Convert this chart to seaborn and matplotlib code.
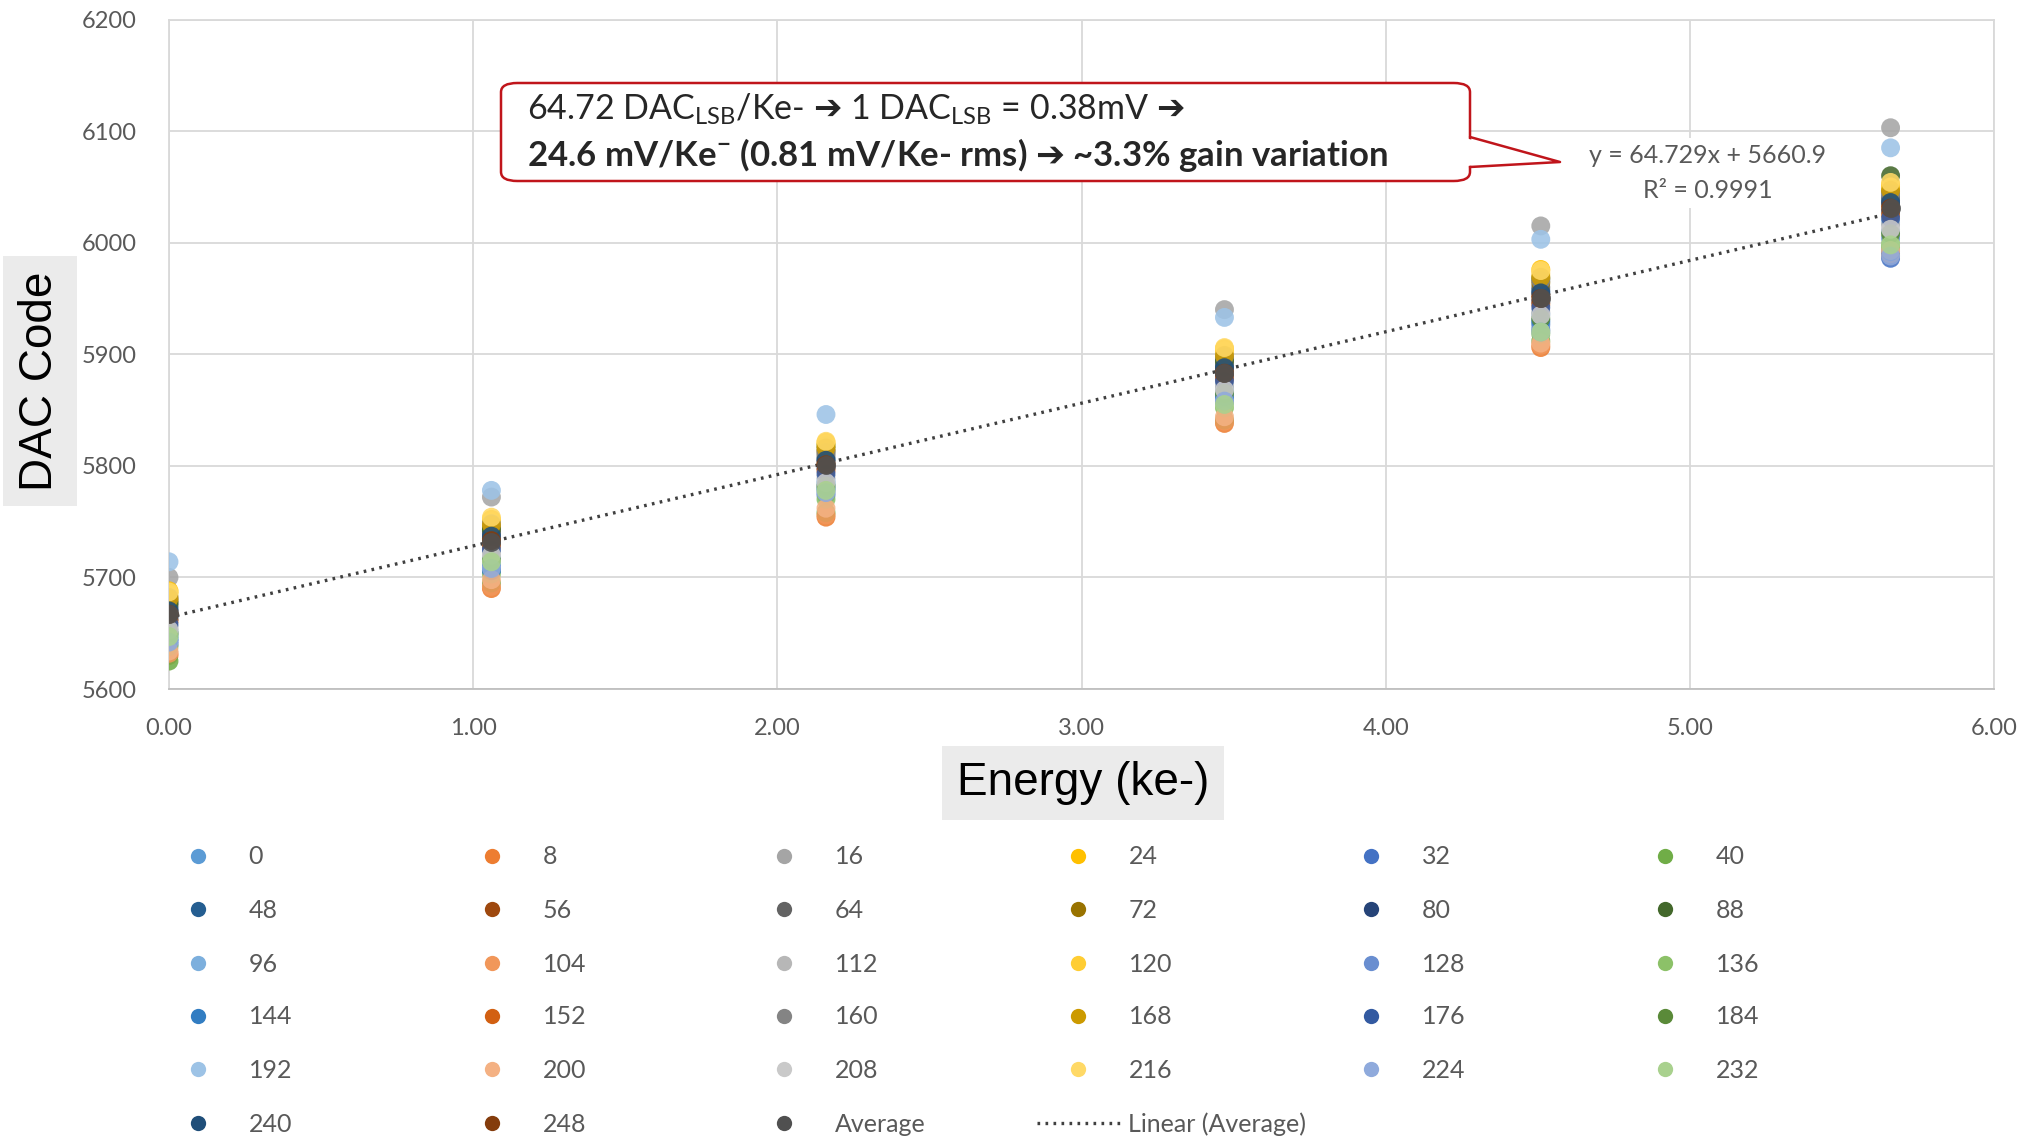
import numpy as np
import pandas as pd
import matplotlib
matplotlib.use("Agg")
import matplotlib.pyplot as plt
from matplotlib.lines import Line2D
from matplotlib.patches import FancyBboxPatch, Polygon
import seaborn as sns

# ---------------- data ----------------
energy = [0.00, 1.06, 2.16, 3.47, 4.51, 5.66]

s0 = [5648, 5712, 5784, 5866, 5928, 6010]
s8 = [5630, 5690, 5754, 5838, 5906, 5988]
s16 = [5700, 5772, 5815, 5940, 6015, 6103]
s24 = [5688, 5752, 5821, 5905, 5976, 6052]
s32 = [5640, 5706, 5774, 5857, 5922, 5986]
s40 = [5625, 5695, 5758, 5841, 5912, 5996]
s48 = [5672, 5739, 5806, 5889, 5957, 6038]
s56 = [5669, 5735, 5803, 5886, 5953, 6034]
s64 = [5675, 5741, 5809, 5892, 5960, 6041]
s72 = [5679, 5745, 5813, 5896, 5964, 6046]
s80 = [5663, 5730, 5798, 5880, 5947, 6028]
s88 = [5677, 5743, 5818, 5894, 5968, 6060]
s96 = [5652, 5718, 5787, 5870, 5936, 6018]
s104 = [5632, 5692, 5756, 5840, 5908, 5990]
s112 = [5655, 5722, 5790, 5872, 5938, 6016]
s120 = [5685, 5750, 5819, 5903, 5972, 6050]
s128 = [5643, 5709, 5778, 5860, 5926, 6004]
s136 = [5638, 5703, 5770, 5852, 5918, 5999]
s144 = [5645, 5706, 5780, 5862, 5930, 5992]
s152 = [5661, 5728, 5796, 5878, 5945, 6025]
s160 = [5682, 5748, 5812, 5898, 5966, 6044]
s168 = [5681, 5747, 5816, 5899, 5969, 6047]
s176 = [5658, 5725, 5793, 5876, 5942, 6022]
s184 = [5650, 5716, 5782, 5865, 5932, 6008]
s192 = [5714, 5778, 5846, 5933, 6003, 6085]
s200 = [5634, 5698, 5762, 5844, 5910, 5993]
s208 = [5653, 5720, 5785, 5868, 5935, 6012]
s216 = [5687, 5754, 5822, 5906, 5975, 6054]
s224 = [5642, 5708, 5776, 5858, 5920, 5988]
s232 = [5647, 5714, 5778, 5855, 5920, 5998]
s240 = [5670, 5737, 5805, 5888, 5955, 6036]
s248 = [5667, 5733, 5801, 5883, 5950, 6031]
average = [5667, 5732, 5801, 5883, 5950, 6031]

series_labels = ["0", "8", "16", "24", "32", "40", "48", "56", "64", "72",
                 "80", "88", "96", "104", "112", "120", "128", "136", "144",
                 "152", "160", "168", "176", "184", "192", "200", "208",
                 "216", "224", "232", "240", "248"]
series_values = [s0, s8, s16, s24, s32, s40, s48, s56, s64, s72, s80, s88,
                 s96, s104, s112, s120, s128, s136, s144, s152, s160, s168,
                 s176, s184, s192, s200, s208, s216, s224, s232, s240, s248]
series_colors = ["#5B9BD5", "#ED7D31", "#A5A5A5", "#FFC000", "#4472C4", "#70AD47",
                 "#255E91", "#9E480E", "#636363", "#997300", "#264478", "#43682B",
                 "#7CAFDD", "#F1975A", "#B7B7B7", "#FFCD33", "#698ED0", "#8CC168",
                 "#327DC2", "#D26012", "#848484", "#CC9A00", "#335AA1", "#5A8A39",
                 "#9DC3E6", "#F4B183", "#C9C9C9", "#FFD966", "#8FAADC", "#A9D18E",
                 "#1F4E79", "#843C0C"]
avg_color = "#505050"

y_ticks = [5600, 5700, 5800, 5900, 6000, 6100, 6200]
x_ticks = [0, 1, 2, 3, 4, 5, 6]
x_tick_labels = ["0.00", "1.00", "2.00", "3.00", "4.00", "5.00", "6.00"]

# ---------------- style ----------------
sns.set_theme(style="white")
plt.rcParams['font.family'] = ['Lato', 'DejaVu Sans']
plt.rcParams['mathtext.fontset'] = 'custom'
plt.rcParams['mathtext.rm'] = 'Lato'
plt.rcParams['mathtext.bf'] = 'Lato:bold'
plt.rcParams['mathtext.sf'] = 'DejaVu Sans'

W, H = 2039, 1138
fig = plt.figure(figsize=(W / 100, H / 100), dpi=100)
fig.patch.set_facecolor("white")


def fx(px):
    return px / W


def fy(py):
    return 1 - py / H


ax = fig.add_axes([fx(169), fy(689), (1994 - 169) / W, (689 - 19.5) / H])

rows = []
for lab, vals in zip(series_labels, series_values):
    for e, v in zip(energy, vals):
        rows.append((lab, e, v))
df = pd.DataFrame(rows, columns=["series", "energy", "dac"])
palette = dict(zip(series_labels, series_colors))

sns.regplot(x=energy, y=average, scatter=False, ci=None, truncate=True, ax=ax,
            line_kws=dict(color="#404040", lw=2.4, ls=(0, (0.8, 1.6)), zorder=2))
sns.scatterplot(data=df, x="energy", y="dac", hue="series", palette=palette,
                hue_order=series_labels, s=185, linewidth=0, alpha=0.88,
                legend=False, ax=ax, zorder=3)
sns.scatterplot(x=energy, y=average, color=avg_color, s=185, linewidth=0,
                alpha=0.9, ax=ax, zorder=4)

ax.set_xlim(0, 6)
ax.set_ylim(5600, 6200)
ax.set_xticks(x_ticks)
ax.set_xticklabels(x_tick_labels)
ax.set_yticks(y_ticks)
ax.set_xlabel("")
ax.set_ylabel("")
ax.grid(True, color="#D9D9D9", lw=1.3)
ax.set_axisbelow(True)
for sp in ax.spines.values():
    sp.set_color("#D9D9D9")
    sp.set_linewidth(1.3)
ax.spines["bottom"].set_color("#BFBFBF")
ax.tick_params(axis="both", length=0, labelsize=17, labelcolor="#595959")
ax.tick_params(axis="y", pad=23)
ax.tick_params(axis="x", pad=21)

# axis titles in grey boxes
fig.text(fx(1083), fy(783), "Energy (ke-)", family="Liberation Sans", fontsize=33,
         color="black", ha="center", va="center",
         bbox=dict(boxstyle="square,pad=0.33", fc="#EBEBEB", ec="none"))
fig.text(fx(40), fy(381), "DAC Code", family="Liberation Sans", fontsize=33,
         color="black", ha="center", va="center", rotation=90,
         bbox=dict(boxstyle="square,pad=0.33", fc="#EBEBEB", ec="none"))

# trendline equation
fig.text(fx(1708), fy(173), "y = 64.729x + 5660.9\nR² = 0.9991", fontsize=18,
         color="#595959", ha="center", va="center", linespacing=1.6,
         bbox=dict(boxstyle="square,pad=0.25", fc="white", ec="none"))

# callout
red = "#C0151B"
box = FancyBboxPatch((fx(501), fy(181)), (1470 - 501) / W, (181 - 83) / H,
                     boxstyle="round,pad=0,rounding_size=0.008",
                     transform=fig.transFigure, fc="white", ec=red, lw=1.8,
                     zorder=5)
fig.add_artist(box)
tail_fill = Polygon([(fx(1465), fy(138)), (fx(1560), fy(162)), (fx(1465), fy(166))],
                    closed=True, transform=fig.transFigure, fc="white", ec="none",
                    zorder=6)
fig.add_artist(tail_fill)
fig.add_artist(Line2D([fx(1470), fx(1560), fx(1470)], [fy(137), fy(162), fy(167)],
                      transform=fig.transFigure, color=red, lw=1.8, zorder=7))

fig.text(fx(527), fy(109),
         r"64.72 DAC$_{\mathrm{LSB}}$/Ke- $\mathsf{➔}$ 1 DAC$_{\mathrm{LSB}}$ = 0.38mV $\mathsf{➔}$",
         fontsize=24.5, color="#262626", ha="left", va="center", zorder=8)
fig.text(fx(527), fy(155),
         r"24.6 mV/Ke$^{\mathbf{-}}$ (0.81 mV/Ke- rms) $\mathsf{➔}$ ~3.3% gain variation",
         fontsize=25, fontweight="bold", color="#262626", ha="left", va="center",
         zorder=8)

# legend, laid out row-wise in a 6-column grid
col_x = [198, 492, 784, 1078, 1371, 1665]
row_y = [857, 910, 964, 1017, 1070, 1124]
entries = [(lab, Line2D([], [], ls="none", marker="o", ms=11, mfc=c, mec="none"))
           for lab, c in zip(series_labels, series_colors)]
entries.append(("Average", Line2D([], [], ls="none", marker="o", ms=11,
                                  mfc=avg_color, mec="none")))
entries.append(("Linear (Average)", Line2D([], [], color="#404040", lw=2.4,
                                           ls=(0, (0.8, 1.6)))))
for i, (lab, h) in enumerate(entries):
    r, c = divmod(i, 6)
    leg = fig.legend([h], [lab], loc="center left",
                     bbox_to_anchor=(fx(col_x[c] - 41), fy(row_y[r])),
                     frameon=False, fontsize=18, handlelength=3.3,
                     handletextpad=0.36, borderpad=0, borderaxespad=0,
                     labelcolor="#595959")

fig.savefig("out.png", dpi=100, facecolor="white")
